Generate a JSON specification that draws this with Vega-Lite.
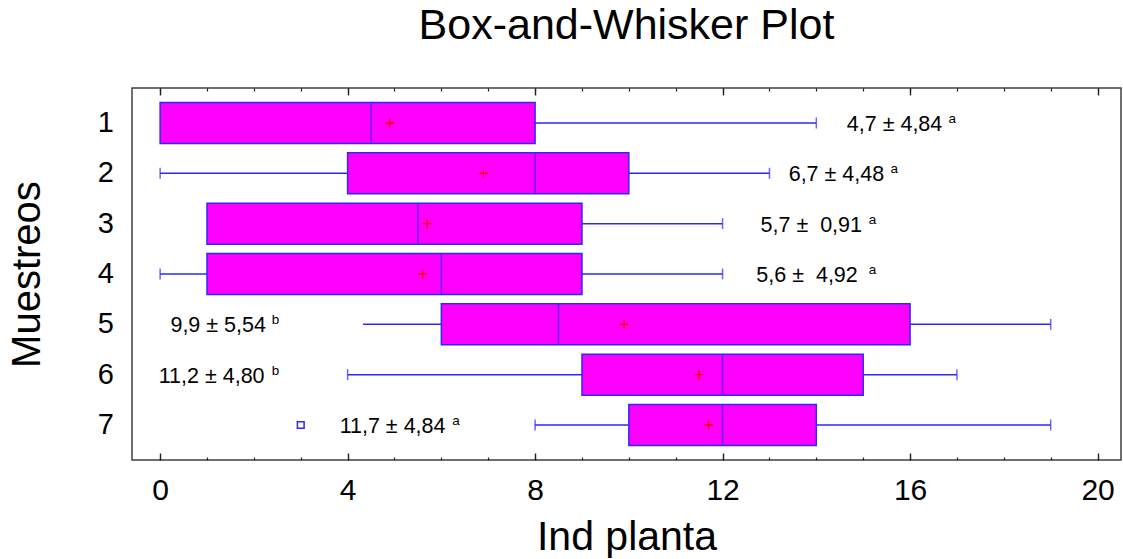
{
  "$schema": "https://vega.github.io/schema/vega-lite/v6.json",
  "width": 989,
  "height": 372,
  "autosize": "none",
  "padding": {"left": 132, "top": 88, "right": 2, "bottom": 99},
  "title": {"text": "Box-and-Whisker Plot", "fontSize": 43, "font": "Liberation Sans", "fontWeight": "normal", "color": "#000000", "anchor": "middle", "frame": "group", "baseline": "alphabetic", "offset": 5},
  "config": {
    "font": "Liberation Sans",
    "view": {"stroke": "#404040", "strokeWidth": 1.5},
    "axisY": {"ticks": false, "domain": false, "grid": false, "labelFontSize": 29, "labelPadding": 18.5, "labelColor": "#000000", "labelFont": "Liberation Sans", "titleFont": "Liberation Sans", "titleFontSize": 40, "titleFontWeight": "normal", "titleColor": "#000000", "titlePadding": 50, "labelAngle": 0},
    "axisX": {"grid": false}
  },
  "datasets": {
    "boxes": [
      {"Muestreos": "1", "min": 0, "q1": 0, "med": 4.5, "q3": 8, "max": 14, "mean": 4.9},
      {"Muestreos": "2", "min": 0, "q1": 4, "med": 8, "q3": 10, "max": 13, "mean": 6.9},
      {"Muestreos": "3", "min": 1, "q1": 1, "med": 5.5, "q3": 9, "max": 12, "mean": 5.7},
      {"Muestreos": "4", "min": 0, "q1": 1, "med": 6, "q3": 9, "max": 12, "mean": 5.6},
      {"Muestreos": "5", "min": 4.33, "q1": 6, "med": 8.5, "q3": 16, "max": 19, "mean": 9.9},
      {"Muestreos": "6", "min": 4, "q1": 9, "med": 12, "q3": 15, "max": 17, "mean": 11.5},
      {"Muestreos": "7", "min": 8, "q1": 10, "med": 12, "q3": 14, "max": 19, "mean": 11.7}
    ],
    "caps": [
      {"Muestreos": "1", "x": 14},
      {"Muestreos": "2", "x": 0},
      {"Muestreos": "2", "x": 13},
      {"Muestreos": "3", "x": 12},
      {"Muestreos": "4", "x": 0},
      {"Muestreos": "4", "x": 12},
      {"Muestreos": "5", "x": 19},
      {"Muestreos": "6", "x": 4},
      {"Muestreos": "6", "x": 17},
      {"Muestreos": "7", "x": 8},
      {"Muestreos": "7", "x": 19}
    ],
    "outliers": [
      {"Muestreos": "7", "x": 3}
    ],
    "notes": [
      {"Muestreos": "1", "x": 14.65, "label": "4,7 ± 4,84", "sx": 16.82, "sup": "a"},
      {"Muestreos": "2", "x": 13.41, "label": "6,7 ± 4,48", "sx": 15.58, "sup": "a"},
      {"Muestreos": "3", "x": 12.81, "label": "5,7 ± \u00a00,91", "sx": 15.12, "sup": "a"},
      {"Muestreos": "4", "x": 12.72, "label": "5,6 ± \u00a04,92", "sx": 15.12, "sup": "a"},
      {"Muestreos": "5", "x": 0.22, "label": "9,9 ± 5,54", "sx": 2.38, "sup": "b"},
      {"Muestreos": "6", "x": -0.03, "label": "11,2 ± 4,80", "sx": 2.38, "sup": "b"},
      {"Muestreos": "7", "x": 3.83, "label": "11,7 ± 4,84", "sx": 6.23, "sup": "a"}
    ]
  },
  "resolve": {"axis": {"x": "independent"}},
  "layer": [
    {
      "data": {"name": "boxes"},
      "mark": {"type": "rule", "color": "#2a2aff", "strokeWidth": 1.5},
      "encoding": {
        "x": {"field": "min", "type": "quantitative", "scale": {"domain": [-0.6, 20.5], "nice": false, "zero": false},
              "axis": {"orient": "bottom", "values": [0, 4, 8, 12, 16, 20], "labels": false, "domain": false, "title": null, "tickSize": -7, "tickColor": "#202020", "tickWidth": 1.4}},
        "x2": {"field": "max"},
        "y": {"field": "Muestreos", "type": "ordinal", "bandPosition": 0.5, "scale": {"type": "band", "paddingInner": 0.185, "paddingOuter": 0.288}}
      }
    },
    {
      "data": {"name": "boxes"},
      "mark": {"type": "bar", "fill": "#ff00ff", "stroke": "#2a2aff", "strokeWidth": 1.5, "opacity": 1},
      "encoding": {
        "x": {"field": "q1", "type": "quantitative", "scale": {"domain": [-0.6, 20.5], "nice": false, "zero": false},
              "axis": {"orient": "bottom", "values": [0, 4, 8, 12, 16, 20], "ticks": false, "domain": false, "labelFontSize": 30, "labelPadding": 15, "labelColor": "#000000", "labelFont": "Liberation Sans", "labelFlush": false, "title": "Ind planta", "titleFont": "Liberation Sans", "titleFontSize": 41, "titleFontWeight": "normal", "titleColor": "#000000", "titlePadding": 12}},
        "x2": {"field": "q3"},
        "y": {"field": "Muestreos", "type": "ordinal", "scale": {"type": "band", "paddingInner": 0.185, "paddingOuter": 0.288}}
      }
    },
    {
      "data": {"name": "boxes"},
      "mark": {"type": "tick", "color": "#2a2aff", "size": 41, "thickness": 1.5, "orient": "vertical"},
      "encoding": {
        "x": {"field": "med", "type": "quantitative", "scale": {"domain": [-0.6, 20.5], "nice": false, "zero": false},
              "axis": {"orient": "bottom", "values": [0, 1, 2, 3, 4, 5, 6, 7, 8, 9, 10, 11, 12, 13, 14, 15, 16, 17, 18, 19, 20], "labels": false, "domain": false, "title": null, "tickSize": -3, "tickColor": "#202020", "tickWidth": 1.2}},
        "y": {"field": "Muestreos", "type": "ordinal", "bandPosition": 0.5, "scale": {"type": "band", "paddingInner": 0.185, "paddingOuter": 0.288}}
      }
    },
    {
      "data": {"name": "caps"},
      "mark": {"type": "tick", "color": "#2a2aff", "size": 11, "thickness": 1.5, "orient": "vertical"},
      "encoding": {
        "x": {"field": "x", "type": "quantitative", "scale": {"domain": [-0.6, 20.5], "nice": false, "zero": false},
              "axis": {"orient": "top", "values": [0, 4, 8, 12, 16, 20], "labels": false, "domain": false, "title": null, "tickSize": -7, "tickColor": "#202020", "tickWidth": 1.4}},
        "y": {"field": "Muestreos", "type": "ordinal", "bandPosition": 0.5, "scale": {"type": "band", "paddingInner": 0.185, "paddingOuter": 0.288}}
      }
    },
    {
      "data": {"name": "boxes"},
      "mark": {"type": "point", "shape": "M-1,0H1M0,-1V1", "size": 80, "filled": false, "stroke": "#ff0000", "strokeWidth": 1.3, "opacity": 1},
      "encoding": {
        "x": {"field": "mean", "type": "quantitative", "scale": {"domain": [-0.6, 20.5], "nice": false, "zero": false},
              "axis": {"orient": "top", "values": [0, 1, 2, 3, 4, 5, 6, 7, 8, 9, 10, 11, 12, 13, 14, 15, 16, 17, 18, 19, 20], "labels": false, "domain": false, "title": null, "tickSize": -3, "tickColor": "#202020", "tickWidth": 1.2}},
        "y": {"field": "Muestreos", "type": "ordinal", "bandPosition": 0.5, "scale": {"type": "band", "paddingInner": 0.185, "paddingOuter": 0.288}}
      }
    },
    {
      "data": {"name": "outliers"},
      "mark": {"type": "point", "shape": "square", "size": 45, "filled": false, "stroke": "#2a2aff", "strokeWidth": 1.5, "opacity": 1},
      "encoding": {
        "x": {"field": "x", "type": "quantitative", "scale": {"domain": [-0.6, 20.5], "nice": false, "zero": false}, "axis": null},
        "y": {"field": "Muestreos", "type": "ordinal", "bandPosition": 0.5, "scale": {"type": "band", "paddingInner": 0.185, "paddingOuter": 0.288}}
      }
    },
    {
      "data": {"name": "notes"},
      "mark": {"type": "text", "align": "left", "baseline": "alphabetic", "dy": 8, "fontSize": 21.5, "font": "Liberation Sans", "color": "#000000"},
      "encoding": {
        "x": {"field": "x", "type": "quantitative", "scale": {"domain": [-0.6, 20.5], "nice": false, "zero": false}, "axis": null},
        "y": {"field": "Muestreos", "type": "ordinal", "bandPosition": 0.5, "scale": {"type": "band", "paddingInner": 0.185, "paddingOuter": 0.288}},
        "text": {"field": "label"}
      }
    },
    {
      "data": {"name": "notes"},
      "mark": {"type": "text", "align": "left", "baseline": "alphabetic", "dy": 0, "fontSize": 13.5, "font": "Liberation Sans", "color": "#000000"},
      "encoding": {
        "x": {"field": "sx", "type": "quantitative", "scale": {"domain": [-0.6, 20.5], "nice": false, "zero": false}, "axis": null},
        "y": {"field": "Muestreos", "type": "ordinal", "bandPosition": 0.5, "scale": {"type": "band", "paddingInner": 0.185, "paddingOuter": 0.288}},
        "text": {"field": "sup"}
      }
    }
  ]
}
